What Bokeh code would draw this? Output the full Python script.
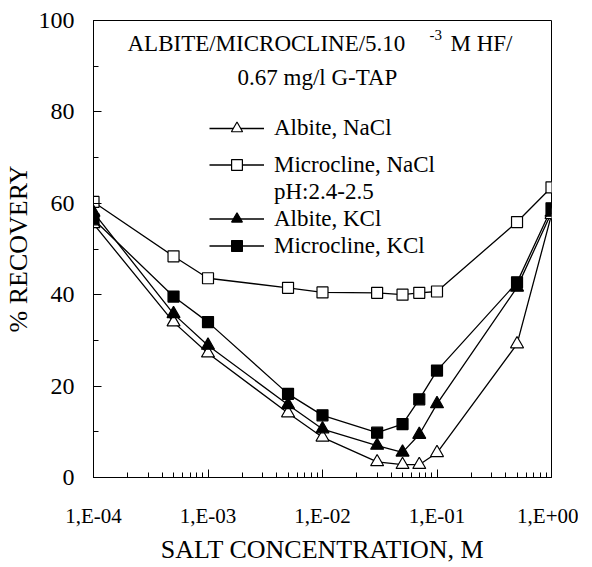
from bokeh.plotting import figure
from bokeh.models import (Range1d, FixedTicker, SingleIntervalTicker, CustomJSTickFormatter,
                          Legend, LegendItem, Label)
from bokeh.embed import file_html
from bokeh.resources import INLINE

# ---- data ----
salt_conc = [1e-4, 5e-4, 1e-3, 5e-3, 1e-2, 3e-2, 5e-2, 7e-2, 1e-1, 5e-1, 1.0]
albite_nacl = [55.5, 34.0, 27.2, 14.1, 8.8, 3.4, 2.8, 2.8, 5.4, 29.2, 57.5]
microcline_nacl = [60.3, 48.4, 43.6, 41.5, 40.5, 40.4, 40.0, 40.4, 40.7, 55.9, 63.5]
albite_kcl = [58.0, 35.8, 28.9, 15.9, 10.6, 7.0, 5.5, 9.4, 16.1, 41.6, 58.0]
microcline_kcl = [56.5, 39.6, 34.0, 18.3, 13.6, 9.8, 11.7, 17.1, 23.4, 42.7, 58.9]

x_major_ticks = [1e-4, 1e-3, 1e-2, 1e-1, 1.0]
x_tick_labels = ["1,E-04", "1,E-03", "1,E-02", "1,E-01", "1,E+00"]
x_minor_ticks = [m * t for t in x_major_ticks[:-1] for m in range(2, 10)]

series_names = ["Albite, NaCl", "Microcline, NaCl", "Albite, KCl", "Microcline, KCl"]

FONT = "Liberation Serif"

p = figure(x_axis_type="log", frame_width=458, frame_height=457,
           x_range=Range1d(1e-4, 1.0), y_range=Range1d(0, 100),
           output_backend="svg", toolbar_location=None,
           min_border_left=91, min_border_right=27, min_border_top=20, min_border_bottom=78)

p.xgrid.visible = False
p.ygrid.visible = False
p.outline_line_color = "black"
p.outline_line_alpha = 1
p.outline_line_width = 1
p.background_fill_color = "white"

# axes
xa = p.xaxis[0]
xa.ticker = FixedTicker(ticks=x_major_ticks, minor_ticks=x_minor_ticks)
xa.formatter = CustomJSTickFormatter(args=dict(labels=x_tick_labels),
                                     code="return labels[Math.round(Math.log10(tick)) + 4];")
ya = p.yaxis[0]
ya.ticker = SingleIntervalTicker(interval=20, num_minor_ticks=2)

for ax in (xa, ya):
    ax.axis_line_color = "black"
    ax.axis_line_width = 1
    ax.major_tick_line_color = "black"
    ax.minor_tick_line_color = "black"
    ax.major_tick_in = 8
    ax.major_tick_out = 0
    ax.minor_tick_in = 5
    ax.minor_tick_out = 0
    ax.major_label_text_color = "black"
    ax.major_label_text_font = FONT
    ax.axis_label_text_font = FONT
    ax.axis_label_text_font_style = "normal"
    ax.axis_label_text_color = "black"

xa.major_label_text_font_size = "21px"
xa.major_label_standoff = 26
xa.axis_label = "SALT CONCENTRATION, M"
xa.axis_label_text_font_size = "26px"
xa.axis_label_standoff = 4

ya.major_label_text_font_size = "24px"
ya.major_label_standoff = 19
ya.axis_label = "% RECOVERY"
ya.axis_label_text_font_size = "26px"
ya.axis_label_standoff = 3

# series
def open_style():
    return dict(fill_color="white", line_color="black", line_width=1.2)

def filled_style():
    return dict(fill_color="black", line_color="black", line_width=1.2)

lw = 1.3
l_mn = p.line(salt_conc, microcline_nacl, line_color="black", line_width=lw)
l_an = p.line(salt_conc, albite_nacl, line_color="black", line_width=lw)
l_ak = p.line(salt_conc, albite_kcl, line_color="black", line_width=lw)
l_mk = p.line(salt_conc, microcline_kcl, line_color="black", line_width=lw)

s_mn = p.scatter(salt_conc, microcline_nacl, marker="square", size=11, **open_style())
s_an = p.scatter(salt_conc, albite_nacl, marker="triangle", size=13, **open_style())
s_ak = p.scatter(salt_conc, albite_kcl, marker="triangle", size=13, **filled_style())
s_mk = p.scatter(salt_conc, microcline_kcl, marker="square", size=11, **filled_style())

# invisible renderer for the pH note line in legend
ph_dummy = p.line([1e-4], [0], line_alpha=0)

def make_legend(items, loc, row_h):
    lg = Legend(items=items, location=loc, orientation="vertical",
                padding=0, margin=0, spacing=0,
                label_height=row_h, glyph_height=row_h, glyph_width=55,
                label_standoff=10, label_text_font=FONT, label_text_font_size="23px",
                label_text_color="black", border_line_color=None,
                background_fill_alpha=0, inactive_fill_alpha=0)
    p.add_layout(lg, "center")

make_legend([LegendItem(label=series_names[0], renderers=[l_an, s_an])], (116, 335), 28)
make_legend([LegendItem(label=series_names[1], renderers=[l_mn, s_mn]),
             LegendItem(label="pH:2.4-2.5", renderers=[ph_dummy]),
             LegendItem(label=series_names[2], renderers=[l_ak, s_ak]),
             LegendItem(label=series_names[3], renderers=[l_mk, s_mk])], (116, 218), 27)

# annotation text
def note(x, y, text, size):
    p.add_layout(Label(x=x, y=y, text=text, text_font=FONT, text_font_size=size,
                       text_color="black", text_baseline="middle", text_align="left"))

note(1.98e-4, 95.0, "ALBITE/MICROCLINE/5.10", "23px")
note(0.0861, 96.8, "-3", "15px")
note(0.131, 95.0, "M HF/", "23px")
note(1.81e-3, 87.5, "0.67 mg/l G-TAP", "23px")

open("out.html", "w").write(file_html(p, INLINE))
